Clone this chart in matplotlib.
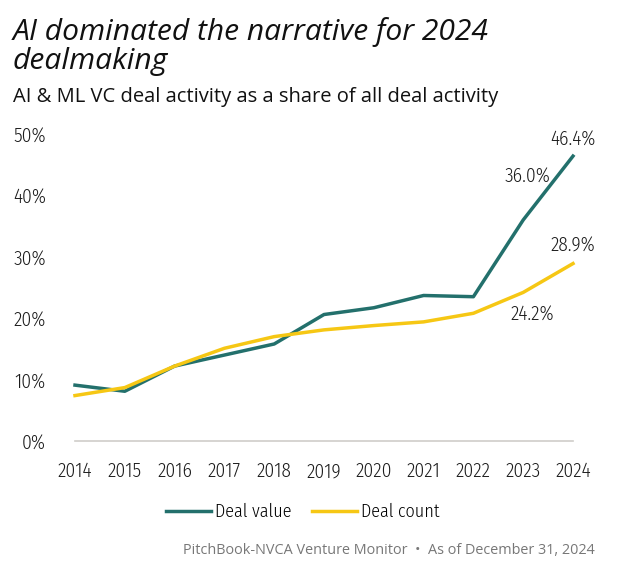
import matplotlib
matplotlib.use("Agg")
from matplotlib import pyplot as plt
import matplotlib.ticker as mtick

years = [2014, 2015, 2016, 2017, 2018, 2019, 2020, 2021, 2022, 2023, 2024]
deal_value = [9.1, 8.1, 12.2, 14.0, 15.8, 20.6, 21.7, 23.7, 23.5, 36.0, 46.4]
deal_count = [7.4, 8.7, 12.2, 15.1, 17.0, 18.1, 18.8, 19.4, 20.8, 24.2, 28.9]
y_ticks = [0, 10, 20, 30, 40, 50]

teal = "#23706c"
yellow = "#f6c714"
narrow = ["Fira Sans Condensed", "DejaVu Sans"]
light = 300

fig = plt.figure(figsize=(6.19, 5.8), dpi=100)
ax = fig.add_axes([75 / 619, 1 - 441 / 580, (573 - 75) / 619, (441 - 134) / 580])

ax.plot(years, deal_value, color=teal, lw=2.5, label="Deal value", clip_on=False)
ax.plot(years, deal_count, color=yellow, lw=2.5, label="Deal count", clip_on=False)

ax.set_xlim(2014, 2024)
ax.set_ylim(0, 50)
ax.set_xticks(years)
ax.set_yticks(y_ticks)
ax.yaxis.set_major_formatter(mtick.FuncFormatter(lambda v, p: f"{v:.0f}%"))
for s in ["top", "right", "left"]:
    ax.spines[s].set_visible(False)
ax.spines["bottom"].set_color("#cfcdc9")
ax.spines["bottom"].set_linewidth(1.2)
ax.tick_params(length=0, labelsize=14, colors="#1c1c1c")
ax.tick_params(axis="x", pad=15)
ax.tick_params(axis="y", pad=21)
for lab in ax.get_xticklabels() + ax.get_yticklabels():
    lab.set_family(narrow)
    lab.set_weight(light)

# end labels
ann_kw = dict(fontsize=14, family=narrow, weight=light, color="#1c1c1c",
              textcoords="offset points", ha="center", va="center")
ax.annotate(f"{deal_value[-1]:.1f}%", (years[-1], deal_value[-1]), xytext=(0, 12.5), **ann_kw)
ax.annotate(f"{deal_value[-2]:.1f}%", (years[-2], deal_value[-2]), xytext=(3, 31.5), **ann_kw)
ax.annotate(f"{deal_count[-1]:.1f}%", (years[-1], deal_count[-1]), xytext=(0, 12.7), **ann_kw)
ax.annotate(f"{deal_count[-2]:.1f}%", (years[-2], deal_count[-2]), xytext=(6.5, -15.5), **ann_kw)

fig.text(13 / 619, 1 - 40 / 580, "AI dominated the narrative for 2024",
         fontsize=21.6, style="italic", family="Open Sans", va="baseline", ha="left",
         color="#111111")
fig.text(13 / 619, 1 - 69 / 580, "dealmaking",
         fontsize=21.6, style="italic", family="Open Sans", va="baseline", ha="left",
         color="#111111")
fig.text(13 / 619, 1 - 102 / 580, "AI & ML VC deal activity as a share of all deal activity",
         fontsize=14.5, family="Open Sans", weight=500, va="baseline", ha="left",
         color="#111111")

fig.legend(loc="center", bbox_to_anchor=(303 / 619, 1 - 512 / 580), ncol=2, frameon=False,
           prop={"family": narrow, "size": 13, "weight": light}, handlelength=2.45,
           handletextpad=0.25, columnspacing=1.15)

fig.text(595 / 619, 1 - 550 / 580, "PitchBook-NVCA Venture Monitor  \u2022  As of December 31, 2024",
         fontsize=10.4, family="Open Sans", color="#777777", ha="right", va="center")

fig.savefig("out.png", dpi=100)
